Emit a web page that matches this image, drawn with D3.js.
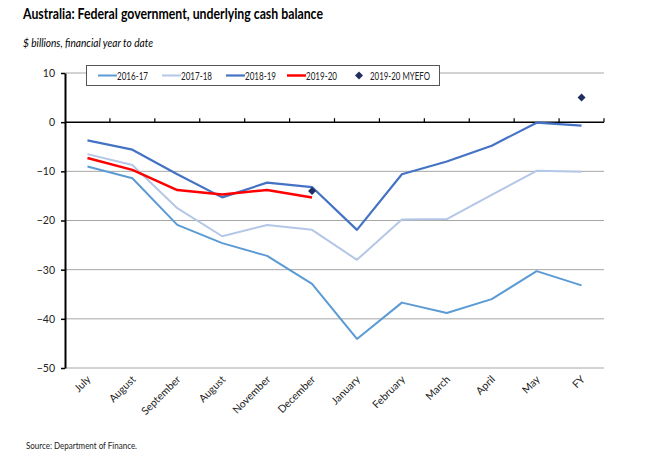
<!DOCTYPE html>
<html>
<head>
<meta charset="utf-8">
<script src="https://cdn.jsdelivr.net/npm/d3@7"></script>
<style>
  body { margin: 0; background: #fff; }
  svg { font-family: Lato, "Open Sans", sans-serif; }
</style>
</head>
<body>
<div id="chart"></div>
<script>
// months of the financial year (the second "August" is as labelled in the source)
const months = ["July", "August", "September", "August", "November", "December",
  "January", "February", "March", "April", "May", "FY"];

const fy1617 = [-9.0, -11.4, -20.9, -24.6, -27.2, -32.9, -44.1, -36.7, -38.8, -36.0, -30.3, -33.2];
const fy1718 = [-6.5, -8.7, -17.5, -23.2, -20.9, -21.9, -28.0, -19.8, -19.7, -14.8, -9.9, -10.1];
const fy1819 = [-3.7, -5.6, -10.6, -15.3, -12.3, -13.2, -21.9, -10.6, -8.0, -4.8, -0.1, -0.7];
const fy1920 = [-7.3, -9.7, -13.8, -14.7, -13.8, -15.3];

// MYEFO points: [month index, value]
const myefo = [[5, -14.0], [11, 5.0]];

const yTicks = [10, 0, -10, -20, -30, -40, -50];

const width = 650, height = 455;
const plotL = 65, plotR = 604, plotT = 73, plotB = 368;

const svg = d3.select("#chart").append("svg")
  .attr("width", width)
  .attr("height", height);

const x = d3.scaleBand()
  .domain(d3.range(months.length))
  .range([plotL, plotR]);

const y = d3.scaleLinear()
  .domain([-50, 10])
  .range([plotB, plotT]);

const cx = i => x(i) + x.bandwidth() / 2;

// titles
svg.append("text")
  .attr("x", 23).attr("y", 19)
  .attr("font-size", 15).attr("font-weight", "bold")
  .attr("textLength", 300).attr("lengthAdjust", "spacingAndGlyphs")
  .attr("fill", "#000")
  .text("Australia: Federal government, underlying cash balance");

svg.append("text")
  .attr("x", 23).attr("y", 47)
  .attr("font-size", 12).attr("font-style", "italic")
  .attr("textLength", 130).attr("lengthAdjust", "spacingAndGlyphs")
  .text("$ billions, financial year to date");

// gridlines
svg.append("g")
  .selectAll("line")
  .data(yTicks.filter(d => d !== 0))
  .join("line")
  .attr("x1", plotL).attr("x2", plotR)
  .attr("y1", d => y(d)).attr("y2", d => y(d))
  .attr("stroke", "#a6a6a6")
  .attr("stroke-width", 1);

// y axis
const yAxis = svg.append("g")
  .attr("transform", `translate(${plotL},0)`)
  .call(d3.axisLeft(y).tickValues(yTicks).tickSize(4).tickSizeOuter(0).tickPadding(6));
yAxis.select(".domain").attr("stroke", "#000").attr("stroke-width", 2);
yAxis.selectAll(".tick line").attr("stroke", "#000").attr("stroke-width", 1.5);
yAxis.selectAll(".tick text").attr("font-size", 10.5).attr("fill", "#222")
  .attr("font-family", "Lato, sans-serif");

// zero line with category ticks
svg.append("line")
  .attr("x1", plotL).attr("x2", plotR)
  .attr("y1", y(0)).attr("y2", y(0))
  .attr("stroke", "#000").attr("stroke-width", 1.5);

svg.append("g")
  .selectAll("line")
  .data(d3.range(1, months.length + 1))
  .join("line")
  .attr("x1", i => plotL + i * x.step()).attr("x2", i => plotL + i * x.step())
  .attr("y1", y(0)).attr("y2", y(0) - 4)
  .attr("stroke", "#000").attr("stroke-width", 1.2);

// x labels
svg.append("g")
  .selectAll("text")
  .data(months)
  .join("text")
  .attr("transform", (d, i) => `translate(${cx(i) + 4},${plotB + 12}) rotate(-45)`)
  .attr("text-anchor", "end")
  .attr("font-size", 10.5)
  .attr("fill", "#222")
  .text(d => d);

// lines
const series = [
  { name: "2016-17", values: fy1617, color: "#5b9bd5", w: 2 },
  { name: "2017-18", values: fy1718, color: "#b4c7e7", w: 2 },
  { name: "2018-19", values: fy1819, color: "#4472c4", w: 2.2 },
  { name: "2019-20", values: fy1920, color: "#ff0000", w: 2.5 }
];

const line = d3.line()
  .x((d, i) => cx(i))
  .y(d => y(d));

svg.append("g")
  .selectAll("path")
  .data(series)
  .join("path")
  .attr("d", d => line(d.values))
  .attr("fill", "none")
  .attr("stroke", d => d.color)
  .attr("stroke-width", d => d.w)
  .attr("stroke-linejoin", "round");

// diamond marker: a square turned 45 degrees
const diamond = d3.symbol().type(d3.symbolSquare).size(32);

svg.append("g")
  .selectAll("path")
  .data(myefo)
  .join("path")
  .attr("transform", d => `translate(${cx(d[0])},${y(d[1])}) rotate(45)`)
  .attr("d", diamond)
  .attr("fill", "#1f2f5f");

// legend
const legend = svg.append("g");
legend.append("rect")
  .attr("x", 86.5).attr("y", 65.5)
  .attr("width", 353).attr("height", 20)
  .attr("fill", "#fff")
  .attr("stroke", "#555").attr("stroke-width", 1);

const legendX = [98, 162, 226, 287];
series.forEach((s, i) => {
  legend.append("line")
    .attr("x1", legendX[i]).attr("x2", legendX[i] + 19)
    .attr("y1", 75.5).attr("y2", 75.5)
    .attr("stroke", s.color).attr("stroke-width", s.w);
  legend.append("text")
    .attr("x", legendX[i] + 19).attr("y", 79.5)
    .attr("font-size", 10.5).attr("fill", "#222")
    .attr("textLength", 31).attr("lengthAdjust", "spacingAndGlyphs")
    .text(s.name);
});
legend.append("path")
  .attr("transform", "translate(359,75.5) rotate(45)")
  .attr("d", diamond)
  .attr("fill", "#1f2f5f");
legend.append("text")
  .attr("x", 370).attr("y", 79.5)
  .attr("font-size", 10.5).attr("fill", "#222")
  .attr("textLength", 60).attr("lengthAdjust", "spacingAndGlyphs")
  .text("2019-20 MYEFO");

// source
svg.append("text")
  .attr("x", 26).attr("y", 449)
  .attr("font-size", 10)
  .attr("textLength", 111).attr("lengthAdjust", "spacingAndGlyphs")
  .attr("fill", "#222")
  .text("Source: Department of Finance.");
</script>
</body>
</html>
